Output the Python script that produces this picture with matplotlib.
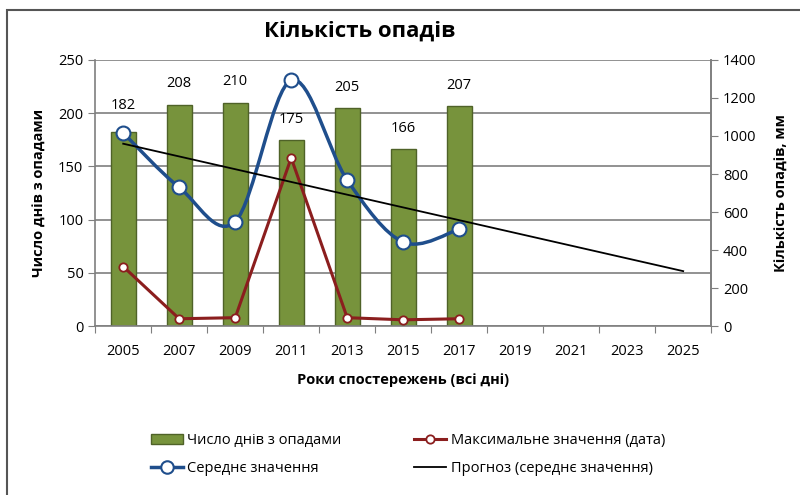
import numpy as np
import matplotlib.pyplot as plt
from matplotlib.path import Path
from matplotlib.patches import PathPatch, Patch
from matplotlib.lines import Line2D

plt.rcParams['font.family'] = ['Open Sans', 'DejaVu Sans']

years = ['2005', '2007', '2009', '2011', '2013', '2015', '2017',
         '2019', '2021', '2023', '2025']
days = [182, 208, 210, 175, 205, 166, 207]          # left axis, bars
mean_mm = [1016, 730, 550, 1293, 768, 442, 510]      # right axis, smooth line
max_val = [56, 7, 8, 158, 8, 6, 7]                   # left axis, red line

GREEN = '#77933C'
GREEN_EDGE = '#4F6228'
BLUE = '#1F4E8C'
RED = '#8B1E1E'
GRID = '#7F7F7F'


def smooth_path(x, y, t=1/6.):
    # excel-like smoothing: bezier segments with catmull-rom control points
    n = len(x)
    verts = [(x[0], y[0])]
    codes = [Path.MOVETO]
    for i in range(n - 1):
        x0, y0 = x[max(i - 1, 0)], y[max(i - 1, 0)]
        x3, y3 = x[min(i + 2, n - 1)], y[min(i + 2, n - 1)]
        c1 = (x[i] + (x[i + 1] - x0) * t, y[i] + (y[i + 1] - y0) * t)
        c2 = (x[i + 1] - (x3 - x[i]) * t, y[i + 1] - (y3 - y[i]) * t)
        verts += [c1, c2, (x[i + 1], y[i + 1])]
        codes += [Path.CURVE4] * 3
    return Path(verts, codes)


fig = plt.figure(figsize=(8, 4.95), dpi=100)
ax = fig.add_axes([0.119, 0.341, 0.770, 0.538])
ax2 = ax.twinx()

xi = np.arange(len(days))
xall = np.arange(len(years))

# bars
ax.bar(xi, days, width=0.44, color=GREEN, edgecolor=GREEN_EDGE, linewidth=1, zorder=2)
for i, (x, v) in enumerate(zip(xi, days)):
    off = 14 if i == 0 else 9.5   # first label sits higher (marker in the way)
    ax.annotate(str(v), (x, v), xytext=(0, off), textcoords='offset points',
                ha='center', va='bottom', fontsize=10.5)

# red line (left axis)
ax.plot(xi, max_val, color=RED, lw=2.2, marker='o', ms=6, mfc='white',
        mec=RED, mew=1.3, zorder=4)

ax.set_ylim(0, 250)
ax.set_yticks(range(0, 251, 50))
ax.set_xlim(-0.5, len(years) - 0.5)
ax.set_xticks(np.arange(-0.5, len(years), 1))
ax.set_xticklabels([])
ax.set_xticks(xall, minor=True)
ax.set_xticklabels(years, minor=True)
ax.tick_params(axis='x', which='major', length=5, color=GRID, direction='out')
ax.tick_params(axis='x', which='minor', length=0, pad=13, labelsize=10.5)
ax.tick_params(axis='y', length=5, color=GRID, labelsize=10.5)
ax.yaxis.grid(True, color=GRID, lw=1.2)
ax.set_axisbelow(True)
ax.spines['top'].set_visible(False)
for s in ['left', 'bottom', 'right']:
    ax.spines[s].set_color(GRID)
    ax.spines[s].set_linewidth(1.2)

# blue smooth line + trend (right axis)
ax2.set_ylim(0, 1400)
ax2.set_yticks(range(0, 1401, 200))
ax2.tick_params(axis='y', length=5, color=GRID, labelsize=10.5)
for s in ['top', 'left', 'bottom']:
    ax2.spines[s].set_visible(False)
ax2.spines['right'].set_color(GRID)
ax2.spines['right'].set_linewidth(1.2)

path = smooth_path(xi.astype(float), np.array(mean_mm, dtype=float))
ax2.add_patch(PathPatch(path, facecolor='none', edgecolor=BLUE, lw=2.5, zorder=3))
ax2.plot(xi, mean_mm, ls='none', marker='o', ms=10, mfc='white', mec=BLUE,
         mew=1.5, zorder=5)

k, b = np.polyfit(xi, mean_mm, 1)
ax2.plot(xall, k * xall + b, color='black', lw=1.3, zorder=6)

ax.set_xlim(-0.5, len(years) - 0.5)

fig.text(0.449, 0.937, 'Кількість опадів', ha='center', va='center',
         fontsize=16, fontweight='bold')
ax.set_ylabel('Число днів з опадами', fontsize=10.5, fontweight='bold', labelpad=8)
ax2.set_ylabel('Кількість опадів, мм', fontsize=10.5, fontweight='bold', labelpad=13)
ax.set_xlabel('Роки спостережень (всі дні)', fontsize=10.5, fontweight='bold', labelpad=10)

handles = [
    Patch(facecolor=GREEN, edgecolor=GREEN_EDGE),
    Line2D([], [], color=BLUE, lw=2.5, marker='o', ms=9, mfc='white', mec=BLUE, mew=1.5),
    Line2D([], [], color=RED, lw=2.2, marker='o', ms=6, mfc='white', mec=RED, mew=1.3),
    Line2D([], [], color='black', lw=1.3),
]
labels = ['Число днів з опадами', 'Середнє значення',
          'Максимальне значення (дата)', 'Прогноз (середнє значення)']
fig.legend(handles, labels, ncol=2, loc='center', bbox_to_anchor=(0.51, 0.082),
           frameon=False, fontsize=10.5, handlelength=2.2, handletextpad=0.3,
           columnspacing=5.0, labelspacing=0.85)

# outer chart border
fig.add_artist(plt.Rectangle((0.009, -0.05), 1.2, 1.03, transform=fig.transFigure,
                             fill=False, edgecolor='#555555', lw=1.5))

fig.savefig('out.png', dpi=100)
